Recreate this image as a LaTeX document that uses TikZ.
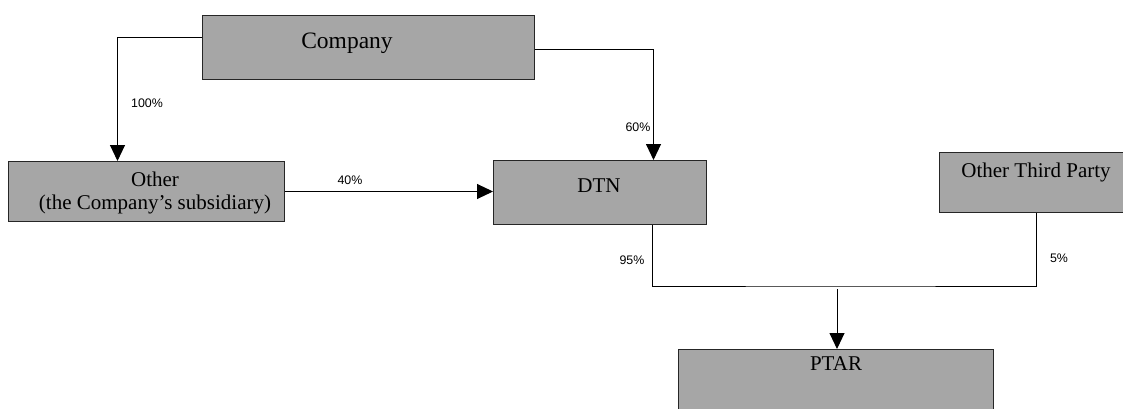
\documentclass[tikz,border=0pt]{standalone}
\usepackage{xcolor}
\usepackage{fontspec}
\setmainfont{Liberation Serif}
\newfontfamily\pctfont{Liberation Sans}
\usepackage{tikz}
\usetikzlibrary{arrows.meta}
\definecolor{boxgray}{HTML}{A6A6A6}
\tikzstyle{org_box} = [rectangle, draw=black!85, fill=boxgray, line width=1pt, anchor=north west, inner sep=0pt]
\tikzstyle{org_txt} = [align=center, inner sep=0pt, font=\fontsize{21}{23}\selectfont]
\tikzstyle{pct_txt} = [inner sep=0pt, font=\pctfont\fontsize{12.4}{14}\selectfont]
\tikzstyle{own_line} = [line width=1pt]
\tikzstyle{own_arr} = [own_line, -{Triangle[length=16pt,width=15pt]}]

\begin{document}
\begin{tikzpicture}[x=1pt,y=-1pt]
\useasboundingbox (0,0) rectangle (1123,409);
% boxes
\node [org_box, minimum width=332pt, minimum height=64pt] (company) at (202,15) {};
\node [org_box, minimum width=276pt, minimum height=60pt] (other) at (8,161) {};
\node [org_box, minimum width=213pt, minimum height=64pt] (dtn) at (493,160) {};
\node [org_box, minimum width=194pt, minimum height=60pt] (third) at (939,152) {};
\node [org_box, minimum width=315pt, minimum height=80pt] (ptar) at (678,349) {};
% box texts
\node [org_txt, font=\fontsize{23.5}{25}\selectfont] (company_t) at (347,43) {Company};
\node [org_txt] (other_t) at (155,193) {Other\\(the Company’s subsidiary)};
\node [org_txt] (dtn_t) at (599,186) {DTN};
\node [org_txt] (third_t) at (1036,172) {Other Third Party};
\node [org_txt] (ptar_t) at (836,364) {PTAR};
% holdings
\coordinate (join) at (837,286);
\draw [own_arr] ([yshift=10pt]company.west) -| ([xshift=-29pt]other.north);
\draw [own_arr] ([yshift=-2pt]company.east) -| ([xshift=53.5pt]dtn.north);
\draw [own_arr] (other.east) -- (other.east -| dtn.west);
\draw [own_line] ([xshift=52.5pt]dtn.south) |- (join) -| (third.south);
\draw [own_arr] ([yshift=-3pt]join) -- (join |- ptar.north);
% percentages
\node [pct_txt] (pct_100) at (147,103) {100\%};
\node [pct_txt] (pct_60) at (638,127) {60\%};
\node [pct_txt] (pct_40) at (350,180) {40\%};
\node [pct_txt] (pct_95) at (632,260) {95\%};
\node [pct_txt] (pct_5) at (1059,258) {5\%};
\end{tikzpicture}
\end{document}
